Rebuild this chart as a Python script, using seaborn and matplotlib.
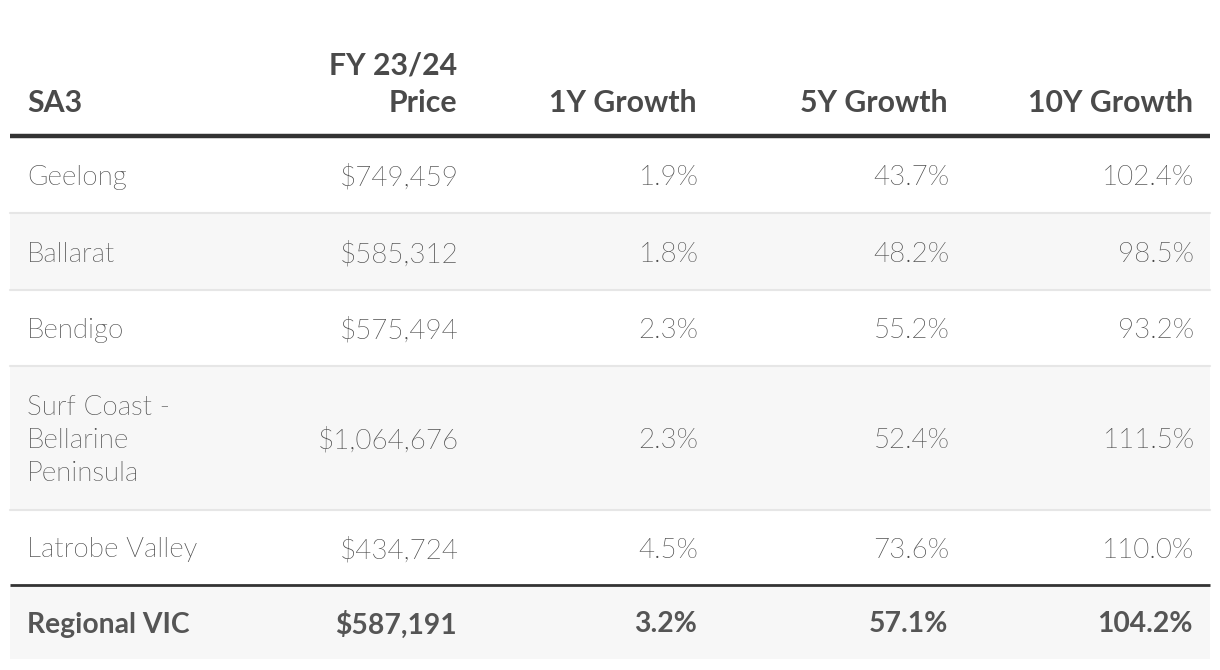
import matplotlib
matplotlib.use("Agg")
import matplotlib.pyplot as plt
import seaborn as sns

# Table data
regions = ["Geelong", "Ballarat", "Bendigo", "Surf Coast -\nBellarine\nPeninsula", "Latrobe Valley"]
prices = ["$749,459", "$585,312", "$575,494", "$1,064,676", "$434,724"]
growth_1y = ["1.9%", "1.8%", "2.3%", "2.3%", "4.5%"]
growth_5y = ["43.7%", "48.2%", "55.2%", "52.4%", "73.6%"]
growth_10y = ["102.4%", "98.5%", "93.2%", "111.5%", "110.0%"]
total_row = ["Regional VIC", "$587,191", "3.2%", "57.1%", "104.2%"]
headers = ["SA3", "FY 23/24\nPrice", "1Y Growth", "5Y Growth", "10Y Growth"]

sns.set_theme(style="white")
plt.rcParams["font.family"] = ["Lato", "DejaVu Sans"]

fig = plt.figure(figsize=(12.2, 6.7), dpi=100)
ax = fig.add_axes([0, 0, 1, 1])
ax.set_xlim(0, 1220)
ax.set_ylim(670, 0)
ax.axis("off")

text_col = "#484848"
head_col = "#4a4a4a"
band_col = "#f7f7f7"
x_left, x_right = 10, 1210
col_x = [27, 457, 697, 948, 1193]
col_ha = ["left", "right", "right", "right", "right"]

# row boundaries (top, bottom)
row_edges = [(137, 212), (213, 289), (290, 365), (366, 509), (510, 584)]
total_edges = (586, 659)

# header
for x, ha, h in zip(col_x, col_ha, headers):
    ax.text(x, 112, h, ha=ha, va="baseline", fontsize=21.8, fontweight="bold",
            color=head_col, linespacing=1.42)
ax.plot([x_left, x_right], [135.5, 135.5], color="#333333", lw=3.2, solid_capstyle="butt")

rows = list(zip(regions, prices, growth_1y, growth_5y, growth_10y))
for i, (row, (top, bot)) in enumerate(zip(rows, row_edges)):
    if i % 2 == 1:
        ax.fill_between([x_left, x_right], top, bot, color=band_col, lw=0)
    yc = (top + bot) / 2 + 3
    for j, (x, ha, val) in enumerate(zip(col_x, col_ha, row)):
        ax.text(x + (1.5 if j > 0 else 0), yc, val, ha=ha, va="center", fontsize=20,
                fontweight=275, color=text_col, linespacing=1.42)
    if i < len(rows) - 1:
        ax.plot([x_left, x_right], [bot + 0.5, bot + 0.5], color="#e6e6e6", lw=1.5)

# total row
ax.fill_between([x_left, x_right], total_edges[0], total_edges[1], color=band_col, lw=0)
ax.plot([x_left, x_right], [585, 585], color="#333333", lw=2, solid_capstyle="butt")
yc = sum(total_edges) / 2 + 2
for x, ha, val in zip(col_x, col_ha, total_row):
    ax.text(x, yc, val, ha=ha, va="center", fontsize=20.3, fontweight="bold", color="#555555")

fig.savefig("out.png", dpi=100, facecolor="white")
